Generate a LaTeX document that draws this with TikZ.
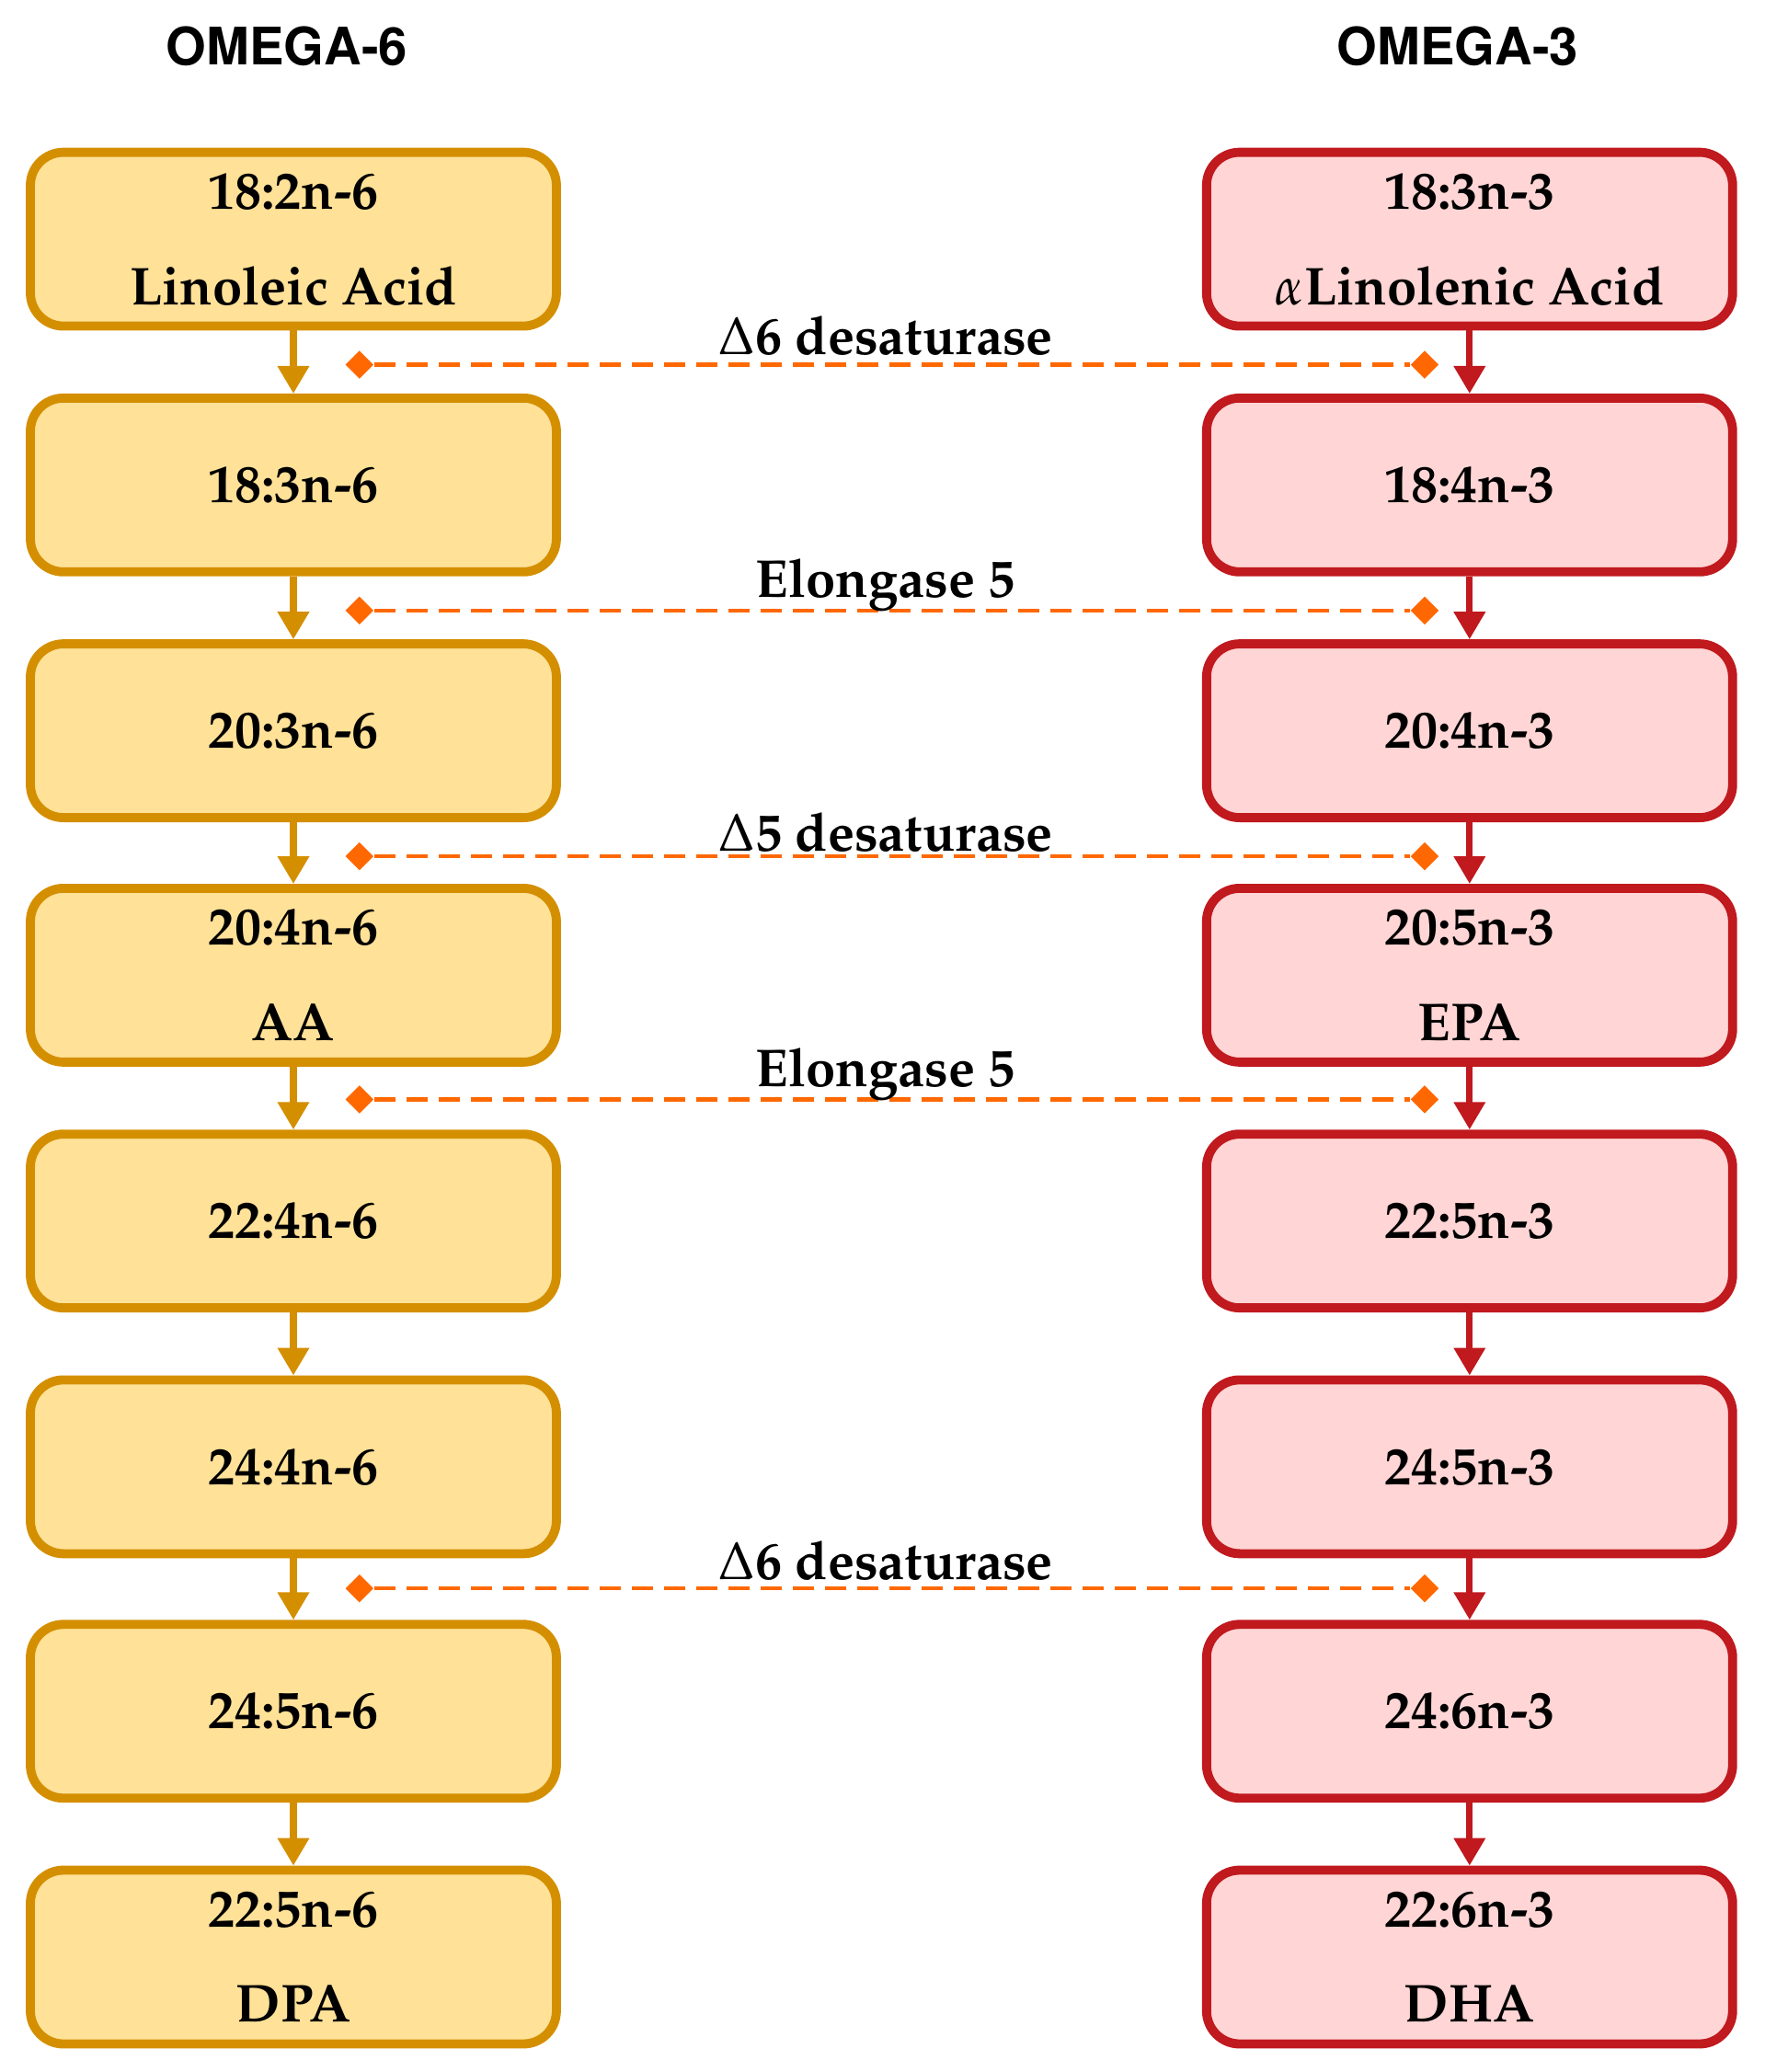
\documentclass[tikz,border=0pt]{standalone}
\usepackage[T1]{fontenc}
\usepackage{mathpazo}
\usepackage{helvet}
\usetikzlibrary{arrows.meta,shapes.geometric}

\definecolor{sixline}{RGB}{212,143,0}
\definecolor{sixfill}{RGB}{255,225,152}
\definecolor{threeline}{RGB}{192,25,30}
\definecolor{threefill}{RGB}{255,213,213}
\definecolor{enzline}{RGB}{255,104,0}

\begin{document}
\begin{tikzpicture}[x=0.1437mm, y=-0.1437mm,
  acid/.style={rounded corners=3.6mm, line width=2.8pt, minimum width=57.2mm, minimum height=18.9mm, inner sep=0pt, align=center, font=\fontsize{16.5}{29.5}\selectfont\bfseries},
  sixbox/.style={acid, draw=sixline, fill=sixfill},
  threebox/.style={acid, draw=threeline, fill=threefill},
  sixarr/.style={draw=sixline, line width=2pt, -{Triangle[width=3.3mm, length=3mm]}},
  threearr/.style={draw=threeline, line width=2pt, -{Triangle[width=3.3mm, length=3mm]}},
  dmark/.style={diamond, fill=enzline, inner sep=0pt, minimum width=3.1mm, minimum height=3.1mm},
  enz/.style={draw=enzline, line width=1.2pt, dash pattern=on 2.3mm off 1.2mm},
  enzlabel/.style={anchor=base, inner sep=0pt, font=\fontsize{16.5}{20}\selectfont\bfseries},
  head/.style={font=\fontsize{16}{18}\selectfont\sffamily\bfseries}]
\useasboundingbox (0, 0) rectangle (1335, 1568);
%Headers
\node[head] (h6) at (217, 35) {OMEGA-6};
\node[head] (h3) at (1103, 35) {OMEGA-3};
%Omega-6
\node[sixbox] (a1) at (222, 181) {18:2n-6\\Linoleic Acid};
\node[sixbox] (a2) at (222, 367) {18:3n-6};
\node[sixbox] (a3) at (222, 553) {20:3n-6};
\node[sixbox] (a4) at (222, 738) {20:4n-6\\AA};
\node[sixbox] (a5) at (222, 924) {22:4n-6};
\node[sixbox] (a6) at (222, 1110) {24:4n-6};
\node[sixbox] (a7) at (222, 1295) {24:5n-6};
\node[sixbox] (a8) at (222, 1481) {22:5n-6\\DPA};
\draw[sixarr] (a1) -- (a2);
\draw[sixarr] (a2) -- (a3);
\draw[sixarr] (a3) -- (a4);
\draw[sixarr] (a4) -- (a5);
\draw[sixarr] (a5) -- (a6);
\draw[sixarr] (a6) -- (a7);
\draw[sixarr] (a7) -- (a8);
%Omega-3
\node[threebox] (b1) at (1112, 181) {18:3n-3\\$\alpha$Linolenic Acid};
\node[threebox] (b2) at (1112, 367) {18:4n-3};
\node[threebox] (b3) at (1112, 553) {20:4n-3};
\node[threebox] (b4) at (1112, 738) {20:5n-3\\EPA};
\node[threebox] (b5) at (1112, 924) {22:5n-3};
\node[threebox] (b6) at (1112, 1110) {24:5n-3};
\node[threebox] (b7) at (1112, 1295) {24:6n-3};
\node[threebox] (b8) at (1112, 1481) {22:6n-3\\DHA};
\draw[threearr] (b1) -- (b2);
\draw[threearr] (b2) -- (b3);
\draw[threearr] (b3) -- (b4);
\draw[threearr] (b4) -- (b5);
\draw[threearr] (b5) -- (b6);
\draw[threearr] (b6) -- (b7);
\draw[threearr] (b7) -- (b8);
%Enzymes
\node[dmark] (e1l) at (272, 276) {};
\node[dmark] (e1r) at (1078, 276) {};
\draw[enz] (e1l) -- (e1r);
\node[enzlabel] (e1) at (670, 268) {$\Delta$6 desaturase};
\node[dmark] (e2l) at (272, 462) {};
\node[dmark] (e2r) at (1078, 462) {};
\draw[enz] (e2l) -- (e2r);
\node[enzlabel] (e2) at (670, 452) {Elongase 5};
\node[dmark] (e3l) at (272, 648) {};
\node[dmark] (e3r) at (1078, 648) {};
\draw[enz] (e3l) -- (e3r);
\node[enzlabel] (e3) at (670, 644) {$\Delta$5 desaturase};
\node[dmark] (e4l) at (272, 832) {};
\node[dmark] (e4r) at (1078, 832) {};
\draw[enz] (e4l) -- (e4r);
\node[enzlabel] (e4) at (670, 822) {Elongase 5};
\node[dmark] (e6l) at (272, 1202) {};
\node[dmark] (e6r) at (1078, 1202) {};
\draw[enz] (e6l) -- (e6r);
\node[enzlabel] (e6) at (670, 1195) {$\Delta$6 desaturase};
\end{tikzpicture}
\end{document}
